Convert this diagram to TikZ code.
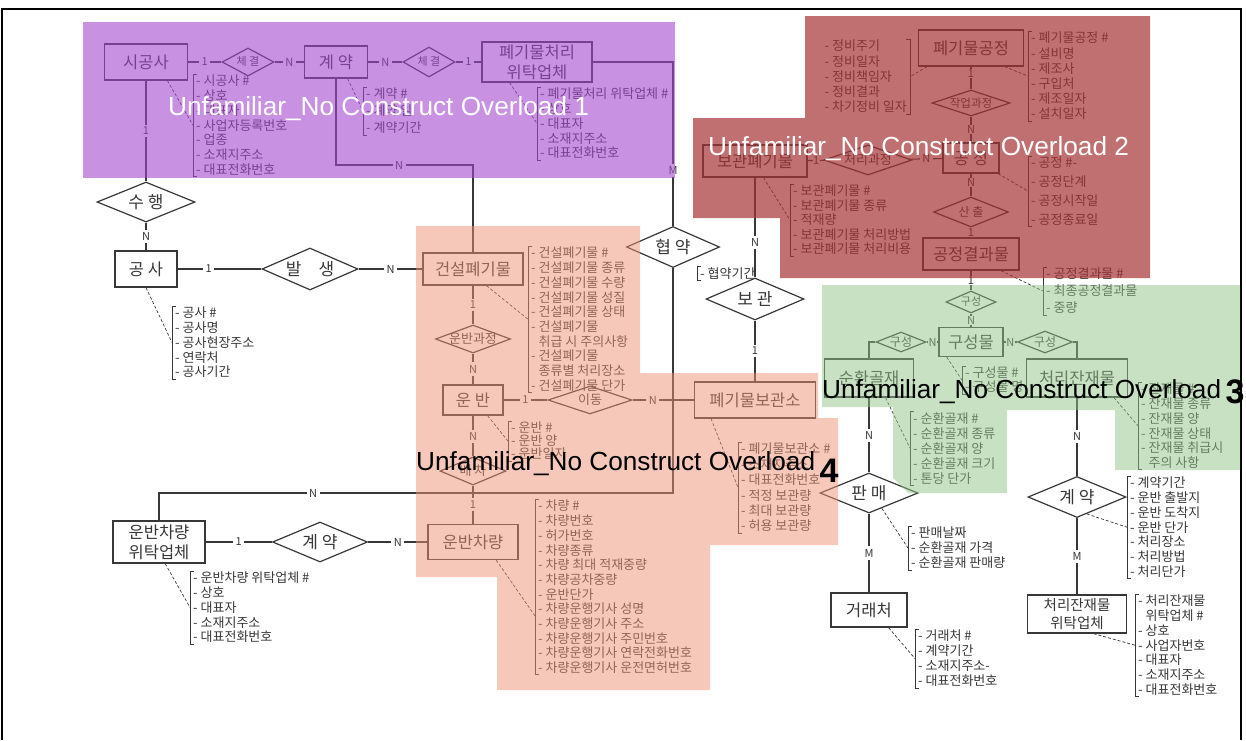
\documentclass[tikz,border=0pt]{standalone}
\usepackage{fontspec}
\setmainfont{Noto Sans CJK KR}
\newfontfamily\ovfont{Liberation Sans}
\usetikzlibrary{shapes.geometric}
\definecolor{ink}{RGB}{55,55,55}
\definecolor{ovpurple}{RGB}{163,72,205}
\definecolor{ovred}{RGB}{165,51,51}
\definecolor{ovsalmon}{RGB}{235,145,115}
\definecolor{ovgreen}{RGB}{145,195,135}
\newcommand\dtxt[1]{\makebox[0pt]{\smash{\raisebox{-.36em}{#1}}}}
\newcommand\lbrk[1]{\draw[brk] ([xshift=4pt]#1.north west) -- (#1.north west) -- (#1.south west) -- ([xshift=4pt]#1.south west);}
\newcommand\rbrk[1]{\draw[brk] ([xshift=-4pt]#1.north east) -- (#1.north east) -- (#1.south east) -- ([xshift=-4pt]#1.south east);}
\tikzset{
  sz/.style 2 args={minimum width=#1pt,minimum height=#2pt},
  ent/.style={draw=ink,line width=1.3pt,inner sep=0pt,align=center,text=ink,font=\fontsize{16.5}{20}\selectfont},
  rel/.style={draw=ink,line width=1.2pt,diamond,inner sep=0pt,text=ink,font=\fontsize{17}{17}\selectfont},
  srel/.style={rel,font=\fontsize{13}{13}\selectfont},
  card/.style={fill=white,inner sep=2.5pt,text=ink,font=\fontsize{11}{11}\selectfont},
  tcard/.style={card,inner sep=.5pt},
  attrs/.style={anchor=north west,align=left,inner xsep=3pt,inner ysep=1pt,text=ink,font=\fontsize{13}{14.7}\selectfont},
  link/.style={draw=ink,line width=1.1pt},
  alink/.style={draw=ink,line width=.7pt,densely dashed},
  brk/.style={draw=ink,line width=.8pt},
  ovtext/.style={anchor=base west,inner sep=0pt,font=\ovfont\fontsize{26.2}{26.2}\selectfont}
}

\begin{document}
\begin{tikzpicture}[x=1pt,y=-1pt]
  \useasboundingbox (0,0) rectangle (1246,740);
  \draw[line width=2pt] (2,740) -- (2,9) -- (1241,9) -- (1241,740);

  % entities
  \node[ent,sz={83}{36}] (sgs) at (146,62) {시공사};
  \node[ent,sz={63}{32}] (gy1) at (336,62) {계 약};
  \node[ent,sz={110}{40}] (pcw) at (537,62) {폐기물처리\\위탁업체};
  \node[ent,sz={62}{36}] (gs) at (146,269) {공 사};
  \node[ent,sz={100}{32}] (gp) at (473,269) {건설폐기물};
  \node[ent,sz={60}{30}] (ub) at (473,400) {운 반};
  \node[ent,sz={121}{36}] (bgs) at (755,400) {폐기물보관소};
  \node[ent,sz={90}{35}] (uc) at (473,542) {운반차량};
  \node[ent,sz={92}{42}] (ucw) at (159,542) {운반차량\\위탁업체};
  \node[ent,sz={105}{36}] (pgj) at (971,48) {폐기물공정};
  \node[ent,sz={56}{30}] (gj) at (971,158) {공 정};
  \node[ent,sz={96}{32}] (gjr) at (971,254) {공정결과물};
  \node[ent,sz={104}{32}] (bp) at (755,161) {보관폐기물};
  \node[ent,sz={64}{29}] (gsm) at (971,342) {구성물};
  \node[ent,sz={89}{38}] (shg) at (869,378) {순환골재};
  \node[ent,sz={101}{38}] (cjj) at (1077,378) {처리잔재물};
  \node[ent,sz={76}{34}] (grc) at (869,610) {거래처};
  \node[ent,sz={99}{38},font=\fontsize{14.5}{18}\selectfont] (cjw) at (1077,614) {처리잔재물\\위탁업체};

  % relationships
  \node[rel,sz={52}{28},font=\fontsize{11}{11}\selectfont] (r1) at (248,62) {\dtxt{체 결}};
  \node[rel,sz={52}{30},font=\fontsize{11}{11}\selectfont] (r2) at (429,62) {\dtxt{체 결}};
  \node[rel,sz={98}{40}] (r3) at (146,202) {\dtxt{수 행}};
  \node[rel,sz={96}{42}] (r4) at (310,269) {\dtxt{발\quad 생}};
  \node[rel,sz={93}{41}] (r5) at (673,247) {\dtxt{협 약}};
  \node[rel,sz={98}{42}] (r6) at (755,299) {\dtxt{보 관}};
  \node[srel,sz={75}{28}] (r7) at (473,339) {\dtxt{운반과정}};
  \node[srel,sz={84}{28}] (r8) at (590,400) {\dtxt{이동}};
  \node[srel,sz={66}{28}] (r9) at (473,471) {\dtxt{배 차}};
  \node[rel,sz={95}{40}] (r10) at (320,542) {\dtxt{계 약}};
  \node[srel,sz={88}{30}] (r11) at (868,160) {\dtxt{처리과정}};
  \node[srel,sz={78}{26},font=\fontsize{11.5}{11.5}\selectfont] (r12) at (971,103) {\dtxt{작업과정}};
  \node[srel,sz={75}{30},font=\fontsize{12}{12}\selectfont] (r13) at (971,212) {\dtxt{산 출}};
  \node[srel,sz={50}{22},font=\fontsize{11}{11}\selectfont] (r14) at (971,302) {\dtxt{구성}};
  \node[srel,sz={50}{20},font=\fontsize{12}{12}\selectfont] (r15) at (901,342) {\dtxt{구성}};
  \node[srel,sz={55}{22},font=\fontsize{12}{12}\selectfont] (r16) at (1045,342) {\dtxt{구성}};
  \node[rel,sz={98}{40}] (r17) at (869,493) {\dtxt{판 매}};
  \node[rel,sz={98}{41}] (r18) at (1077,497) {\dtxt{계 약}};

  \coordinate (k1) at (473,165);
  \coordinate (k2) at (673,493);

  % links
  \draw[link] (sgs) -- node[card]{1} (r1);
  \draw[link] (r1) -- node[card]{N} (gy1);
  \draw[link] (gy1) -- node[card]{N} (r2);
  \draw[link] (r2) -- node[card]{1} (pcw);
  \draw[link] (sgs) -- node[card]{1} (r3);
  \draw[link] (r3) -- node[card]{N} (gs);
  \draw[link] (gs) -- node[card,pos=.37]{1} (r4);
  \draw[link] (r4) -- node[card]{N} (gp);
  \draw[link] (gy1.south) |- node[card,pos=.73]{N} (k1) -- (gp.north);
  \draw[link] (pcw.east) -| node[card,pos=.83]{M} (r5.north);
  \draw[link] (ucw.north) |- node[card,pos=.65]{N} (k2) -- (r5.south);
  \draw[link] (gp) -- node[card]{1} (r7);
  \draw[link] (r7) -- node[card]{N} (ub);
  \draw[link] (ub) -- node[card]{1} (r8);
  \draw[link] (r8) -- node[card,pos=.33]{N} (bgs);
  \draw[link] (ub) -- node[card]{N} (r9);
  \draw[link] (r9) -- node[card]{1} (uc);
  \draw[link] (ucw) -- node[card]{1} (r10);
  \draw[link] (r10) -- node[card]{N} (uc);
  \draw[link] (bgs) -- node[card]{1} (r6);
  \draw[link] (r6) -- node[card,pos=.35]{N} (bp);
  \draw[link] (bp) -- node[tcard]{1} (r11);
  \draw[link] (r11) -- node[card]{N} (gj);
  \draw[link] (pgj) -- node[tcard,pos=.3]{1} (r12);
  \draw[link] (r12) -- node[tcard]{N} (gj);
  \draw[link] (gj) -- node[tcard,pos=.4]{N} (r13);
  \draw[link] (r13) -- node[tcard]{1} (gjr);
  \draw[link] (gjr) -- node[tcard]{1} (r14);
  \draw[link] (r14) -- node[tcard]{N} (gsm);
  \draw[link] (gsm) -- node[tcard]{N} (r15);
  \draw[link] (r15.west) -| (shg.north);
  \draw[link] (gsm) -- node[tcard]{N} (r16);
  \draw[link] (r16.east) -| (cjj.north);
  \draw[link] (shg) -- node[card]{N} (r17);
  \draw[link] (r17) -- node[card]{M} (grc);
  \draw[link] (cjj) -- node[card]{N} (r18);
  \draw[link] (r18) -- node[card]{M} (cjw);

  % attributes
  \node[attrs] (sgsA) at (193,74) {- 시공사 \#\\- 상호\\- 대표자\\- 사업자등록번호\\- 업종\\- 소재지주소\\- 대표전화번호};
  \node[attrs,font=\fontsize{13}{17}\selectfont] (gy1A) at (363,87) {- 계약 \#\\- 계약 일\\- 계약기간};
  \node[attrs] (pcwA) at (537,87) {- 폐기물처리 위탁업체 \#\\- 상호\\- 대표자\\- 소재지주소\\- 대표전화번호};
  \node[attrs] (gsA) at (172,306) {- 공사 \#\\- 공사명\\- 공사현장주소\\- 연락처\\- 공사기간};
  \node[attrs] (gpA) at (528,246) {- 건설폐기물 \#\\- 건설폐기물 종류\\- 건설폐기물 수량\\- 건설폐기물 성질\\- 건설폐기물 상태\\- 건설폐기물\\\hphantom{- }취급 시 주의사항\\- 건설폐기물\\\hphantom{- }종류별 처리장소\\- 건설폐기물 단가};
  \node[attrs] (r5A) at (697,266) {- 협약기간};
  \node[attrs,font=\fontsize{13}{13}\selectfont] (ubA) at (508,421) {- 운반 \#\\- 운반 양\\- 운반일자};
  \node[attrs,font=\fontsize{13}{15.4}\selectfont] (bgsA) at (738,442) {- 폐기물보관소 \#\\- 소재지주소\\- 대표전화번호\\- 적정 보관량\\- 최대 보관량\\- 허용 보관량};
  \node[attrs] (ucA) at (535,499) {- 차량 \#\\- 차량번호\\- 허가번호\\- 차량종류\\- 차량 최대 적재중량\\- 차량공차중량\\- 운반단가\\- 차량운행기사 성명\\- 차량운행기사 주소\\- 차량운행기사 주민번호\\- 차량운행기사 연락전화번호\\- 차량운행기사 운전면허번호};
  \node[attrs] (ucwA) at (190,571) {- 운반차량 위탁업체 \#\\- 상호\\- 대표자\\- 소재지주소\\- 대표전화번호};
  \node[attrs,font=\fontsize{13}{14.5}\selectfont] (bpA) at (790,184) {- 보관폐기물 \#\\- 보관폐기물 종류\\- 적재량\\- 보관폐기물 처리방법\\- 보관폐기물 처리비용};
  \node[attrs,anchor=north east,font=\fontsize{13}{15.25}\selectfont] (pgjL) at (910,39) {- 정비주기\\- 정비일자\\- 정비책임자\\- 정비결과\\- 차기정비 일자};
  \node[attrs,font=\fontsize{13}{15.2}\selectfont] (pgjR) at (1028,31) {- 폐기물공정 \#\\- 설비명\\- 제조사\\- 구입처\\- 제조일자\\- 설치일자};
  \node[attrs,font=\fontsize{13}{18.7}\selectfont] (gjA) at (1028,156) {- 공정 \#-\\- 공정단계\\- 공정시작일\\- 공정종료일};
  \node[attrs,font=\fontsize{13}{17}\selectfont] (gjrA) at (1043,267) {- 공정결과물 \#\\- 최종공정결과물\\- 중량};
  \node[attrs,font=\fontsize{13}{14}\selectfont] (gsmA) at (962,366) {- 구성물 \#\\- 구성물 명};
  \node[attrs,font=\fontsize{13}{15}\selectfont] (shgA) at (910,411) {- 순환골재 \#\\- 순환골재 종류\\- 순환골재 양\\- 순환골재 크기\\- 톤당 단가};
  \node[attrs] (cjjA) at (1138,382) {- 잔재물 \#\\- 잔재물 종류\\- 잔재물 양\\- 잔재물 상태\\- 잔재물 취급시\\\hphantom{- }주의 사항};
  \node[attrs,font=\fontsize{13}{15}\selectfont] (r17A) at (908,526) {- 판매날짜\\- 순환골재 가격\\- 순환골재 판매량};
  \node[attrs] (r18A) at (1127,476) {- 계약기간\\- 운반 출발지\\- 운반 도착지\\- 운반 단가\\- 처리장소\\- 처리방법\\- 처리단가};
  \node[attrs,font=\fontsize{13}{15}\selectfont] (grcA) at (915,629) {- 거래처 \#\\- 계약기간\\- 소재지주소-\\- 대표전화번호};
  \node[attrs] (cjwA) at (1135,594) {- 처리잔재물\\\hphantom{- }위탁업체 \#\\- 상호\\- 사업자번호\\- 대표자\\- 소재지주소\\- 대표전화번호};

  \lbrk{sgsA} \lbrk{gy1A} \lbrk{pcwA} \lbrk{gsA} \lbrk{gpA} \lbrk{r5A} \lbrk{ubA}
  \lbrk{bgsA} \lbrk{ucA} \lbrk{ucwA} \lbrk{bpA} \rbrk{pgjL} \lbrk{pgjR} \lbrk{gjA}
  \lbrk{gjrA} \lbrk{gsmA} \lbrk{shgA} \lbrk{cjjA} \lbrk{r17A} \lbrk{r18A} \lbrk{grcA} \lbrk{cjwA}

  \draw[alink] (sgs.-41) -- (sgsA.west);
  \draw[alink] (gy1.-55) -- (gy1A.west);
  \draw[alink] (pcw.-143) -- (pcwA.west);
  \draw[alink] (gs.south) -- (gsA.west);
  \draw[alink] (gp.-51) -- (gpA.west);
  \draw[alink] (ub.-47) -- (ubA.west);
  \draw[alink] (bgs.-157) -- (bgsA.west);
  \draw[alink] (uc.-38) -- ([yshift=-29pt]ucA.west);
  \draw[alink] (ucw.-74) -- (ucwA.west);
  \draw[alink] (bp.-63) -- (bpA.west);
  \draw[alink] (pgj.-157) -- (pgjL.east);
  \draw[alink] (pgj.-29) -- (pgjR.west);
  \draw[alink] (gj.-30) -- (gjA.west);
  \draw[alink] (gjr.-29) -- (gjrA.west);
  \draw[alink] (gsm.-148) -- (gsmA.west);
  \draw[alink] (shg.-50) -- (shgA.west);
  \draw[alink] (cjj.-28) -- (cjjA.west);
  \draw[alink] (r17.-50) -- (r17A.west);
  \draw[alink] (r18.-60) -- (r18A.west);
  \draw[alink] (grc.-42) -- (grcA.west);
  \draw[alink] (cjw.-50) -- (cjwA.west);

  % overload areas
  \fill[ovpurple,fill opacity=.6] (83,22) rectangle (675,178);
  \fill[ovred,fill opacity=.7] (805,16) -- (1150,16) -- (1150,278) -- (780,278) -- (780,218) -- (693,218) -- (693,118) -- (805,118) -- cycle;
  \fill[ovsalmon,fill opacity=.5] (416,226) -- (640,226) -- (640,373) -- (818,373) -- (818,418) -- (838,418) -- (838,545) -- (710,545) -- (710,690) -- (497,690) -- (497,577) -- (416,577) -- cycle;
  \fill[ovgreen,fill opacity=.5] (822,285) -- (1240,285) -- (1240,470) -- (1115,470) -- (1115,410) -- (1007,410) -- (1007,493) -- (908,493) -- (893,478) -- (893,407) -- (822,407) -- cycle;

  \node[ovtext,text=white] (ov1) at (168,115) {Unfamiliar\_No Construct Overload 1};
  \node[ovtext,text=white] (ov2) at (708,155) {Unfamiliar\_No Construct Overload 2};
  \node[ovtext] (ov3) at (822,398) {Unfamiliar\_No Construct Overload\,\raisebox{-5pt}{\bfseries\fontsize{34}{34}\selectfont 3}};
  \node[ovtext] (ov4) at (416,470) {Unfamiliar\_No Construct Overload\,\raisebox{-12pt}{\bfseries\fontsize{34}{34}\selectfont 4}};
\end{tikzpicture}
\end{document}
